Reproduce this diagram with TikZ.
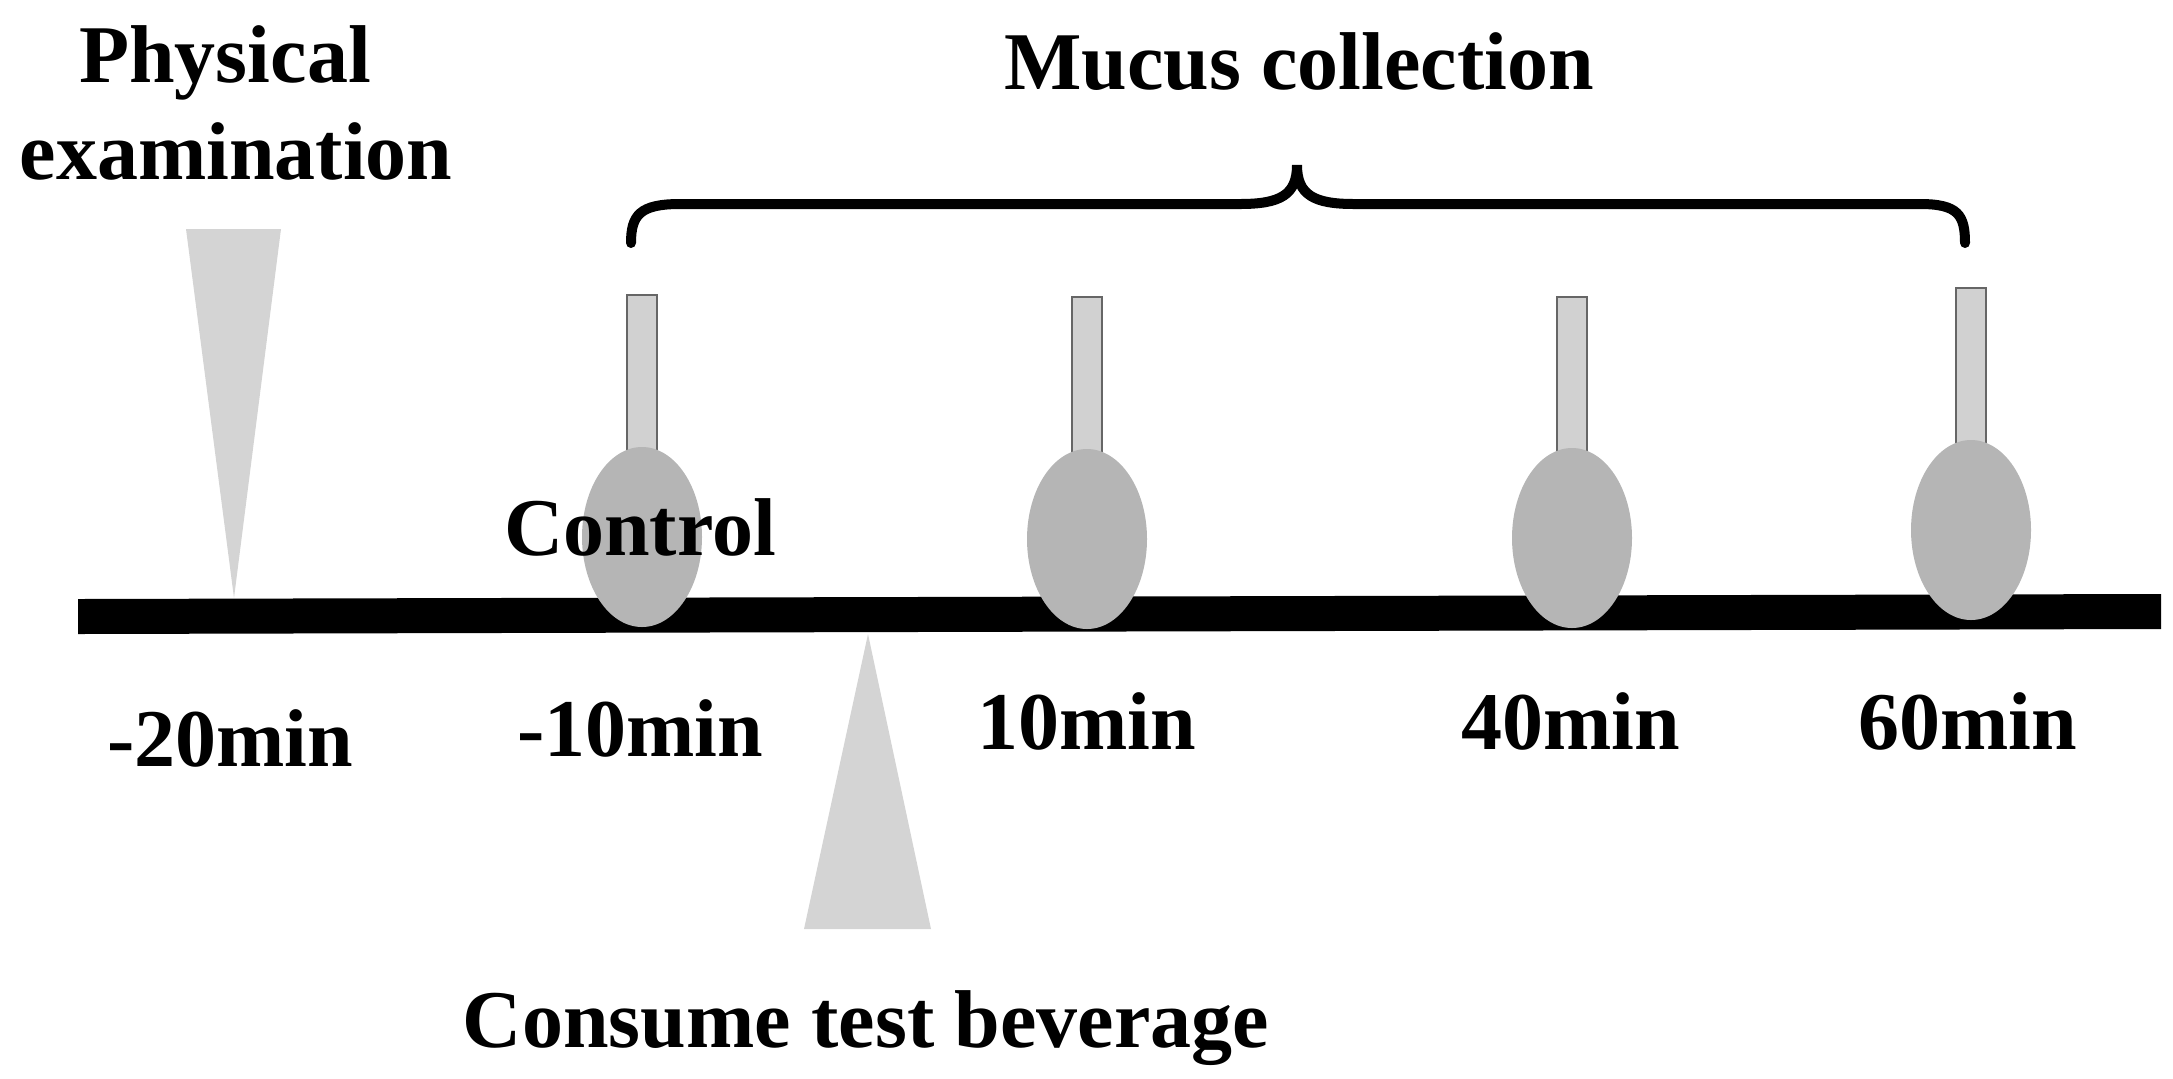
\documentclass[tikz,border=0pt]{standalone}
\usepackage{fontspec}
\setmainfont{Liberation Serif}
\usetikzlibrary{shapes.geometric}
\begin{document}
\begin{tikzpicture}[x=0.5pt,y=-0.5pt,
  lbl/.style={font=\bfseries\fontsize{41}{46}\selectfont,anchor=base,inner sep=0pt},
  tri/.style={fill=black!17,draw=none},
  swabhead/.style={ellipse,fill=black!29,draw=none,minimum width=60pt,minimum height=90pt,inner sep=0pt},
  stickfill/.style={fill=black!18,draw=black!60,line width=1.2pt}]
\useasboundingbox (0,0) rectangle (2173,1078);
% timeline
\fill[black] (78,599) -- (2161,594) -- (2161,629) -- (78,634) -- cycle;
% triangles
\fill[tri] (186,229) -- (281,229) -- (234,598) -- cycle;
\fill[tri] (804,929) -- (931,929) -- (868,634) -- cycle;
% swabs
\foreach \n/\x/\yt/\yc in {a/642/295/537, b/1087/297/539, c/1572/297/538, d/1971/288/530}{
  \filldraw[stickfill] (\x-15,\yt) rectangle (\x+15,\yc-60);
  \node[swabhead] (\n) at (\x,\yc) {};
}
% brace
\draw[line width=5pt,line cap=round] (631,243) .. controls (631,215) and (640,204) .. (680,204)
  -- (1240,204) .. controls (1280,204) and (1297,195) .. (1297,165)
  .. controls (1297,195) and (1314,204) .. (1354,204)
  -- (1920,204) .. controls (1958,204) and (1965,215) .. (1965,243);
% texts
\node[lbl] (phys) at (225,82) {Physical};
\node[lbl] (exam) at (236,179) {examination};
\node[lbl] (mucus) at (1299,89) {Mucus collection};
\node[lbl] (ctrl) at (640,555) {Control};
\node[lbl] (t1) at (230,766) {-20min};
\node[lbl] (t2) at (640,756) {-10min};
\node[lbl] (t3) at (1087,749) {10min};
\node[lbl] (t4) at (1571,749) {40min};
\node[lbl] (t5) at (1968,749) {60min};
\node[lbl] (cons) at (866,1047) {Consume test beverage};
\end{tikzpicture}
\end{document}
